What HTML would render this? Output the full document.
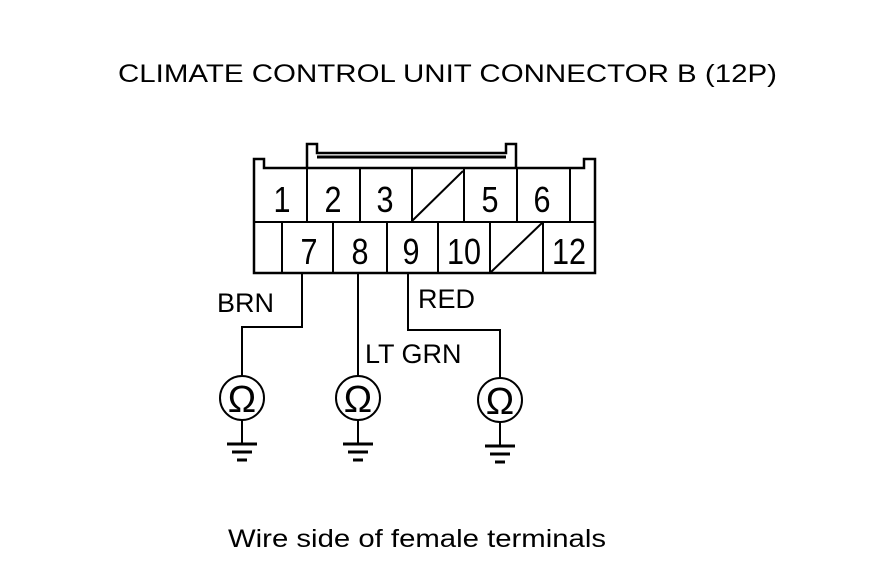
<!DOCTYPE html>
<html><head><style>html,body{margin:0;padding:0;background:#fff}svg{display:block}</style></head>
<body>
<svg width="880" height="578" viewBox="0 0 880 578" xmlns="http://www.w3.org/2000/svg" font-family="Liberation Sans, Arial, sans-serif" fill="none" stroke="#000">
<text x="118" y="82" font-size="25" fill="#000" stroke="none" textLength="659" lengthAdjust="spacingAndGlyphs">CLIMATE CONTROL UNIT CONNECTOR B (12P)</text>
<!-- tab -->
<path d="M307,168 V144 H317 V153 H506 V144 H516 V168" stroke-width="2.5"/>
<line x1="317" y1="157" x2="506" y2="157" stroke-width="3"/>
<!-- body -->
<path d="M254,273 V159 H264 V168 H584 V159 H595 V273 Z" stroke-width="2.5"/>
<line x1="254" y1="222" x2="595" y2="222" stroke-width="2"/>
<g stroke-width="2">
<line x1="307" y1="168" x2="307" y2="222"/><line x1="360" y1="168" x2="360" y2="222"/>
<line x1="412" y1="168" x2="412" y2="222"/><line x1="464" y1="168" x2="464" y2="222"/>
<line x1="517" y1="168" x2="517" y2="222"/><line x1="570" y1="168" x2="570" y2="222"/>
<line x1="282" y1="222" x2="282" y2="273"/><line x1="333" y1="222" x2="333" y2="273"/>
<line x1="387" y1="222" x2="387" y2="273"/><line x1="438" y1="222" x2="438" y2="273"/>
<line x1="490" y1="222" x2="490" y2="273"/><line x1="543" y1="222" x2="543" y2="273"/>
<line x1="412" y1="221" x2="463" y2="171"/><line x1="491" y1="272" x2="542" y2="223"/>
</g>
<g font-size="36" fill="#000" stroke="none" text-anchor="middle">
<g transform="scale(0.85,1)">
<text x="331.8" y="212">1</text><text x="391.8" y="212">2</text><text x="452.9" y="212">3</text>
<text x="576.5" y="212">5</text><text x="637.6" y="212">6</text>
<text x="363.5" y="264">7</text><text x="423.5" y="264">8</text><text x="483.5" y="264">9</text>
<text x="545.9" y="264">10</text><text x="669.4" y="264">12</text>
</g>
</g>
<!-- wires -->
<g stroke-width="2">
<path d="M302,273 V327 H242 V376"/>
<path d="M358,273 V376"/>
<path d="M408,273 V330 H500 V378"/>
<circle cx="242" cy="398" r="22"/><circle cx="358" cy="398" r="22"/><circle cx="500" cy="400" r="22"/>
<line x1="242" y1="420" x2="242" y2="443"/><line x1="358" y1="420" x2="358" y2="443"/><line x1="500" y1="422" x2="500" y2="445"/>
</g>
<g stroke-width="3">
<line x1="227" y1="444" x2="257" y2="444"/><line x1="232" y1="452" x2="252" y2="452"/><line x1="237" y1="460" x2="247" y2="460"/>
<line x1="343" y1="444" x2="373" y2="444"/><line x1="348" y1="452" x2="368" y2="452"/><line x1="353" y1="460" x2="363" y2="460"/>
<line x1="485" y1="446" x2="515" y2="446"/><line x1="490" y1="454" x2="510" y2="454"/><line x1="495" y1="462" x2="505" y2="462"/>
</g>
<g font-size="38" fill="#000" stroke="none" text-anchor="middle">
<text x="242" y="412">Ω</text><text x="358" y="412">Ω</text><text x="500" y="414">Ω</text>
</g>
<g font-size="27" fill="#000" stroke="none">
<text x="217" y="312">BRN</text><text x="418" y="308">RED</text><text x="365" y="363">LT GRN</text>
</g>
<text x="228" y="547" font-size="25" fill="#000" stroke="none" textLength="378" lengthAdjust="spacingAndGlyphs">Wire side of female terminals</text>
</svg>
</body></html>
